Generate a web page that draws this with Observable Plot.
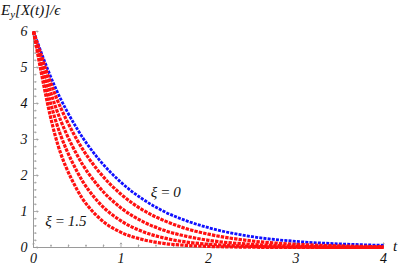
<!DOCTYPE html>
<html>
<head>
<meta charset="utf-8">
<script src="https://cdn.jsdelivr.net/npm/d3@7"></script>
<script src="https://cdn.jsdelivr.net/npm/@observablehq/plot@0.6"></script>
<style>
  html, body { margin: 0; padding: 0; background: white; }
  svg text { font-family: "Liberation Serif", "Times New Roman", serif !important; font-style: italic; }
</style>
</head>
<body>
<div id="chart"></div>
<script>
// time grid (t)
const tValues = [0, 0.25, 0.5, 0.75, 1, 1.25, 1.5, 1.75, 2, 2.5, 3, 3.5, 4];
// ξ = 0 (blue)
const xi0 = [6, 4.44, 3.29, 2.44, 1.81, 1.34, 0.99, 0.74, 0.55, 0.30, 0.17, 0.10, 0.06];
// red curves (increasing ξ up to 1.5)
const xiA = [6, 4.23, 2.98, 2.10, 1.48, 1.04, 0.74, 0.52, 0.37, 0.18, 0.09, 0.045, 0.022];
const xiB = [6, 3.92, 2.56, 1.68, 1.10, 0.72, 0.47, 0.31, 0.20, 0.086, 0.037, 0.016, 0.007];
const xiC = [6, 3.55, 2.10, 1.24, 0.74, 0.44, 0.26, 0.15, 0.09, 0.031, 0.011, 0.004, 0.001];
const xiD = [6, 3.09, 1.60, 0.82, 0.42, 0.22, 0.11, 0.058, 0.030, 0.008, 0.002, 0.001, 0];

const xTicks = [0, 1, 2, 3, 4];
const yTicks = [0, 1, 2, 3, 4, 5, 6];
const xMinor = [0.2,0.4,0.6,0.8,1.2,1.4,1.6,1.8,2.2,2.4,2.6,2.8,3.2,3.4,3.6,3.8];
const yMinor = [0.2,0.4,0.6,0.8,1.2,1.4,1.6,1.8,2.2,2.4,2.6,2.8,3.2,3.4,3.6,3.8,4.2,4.4,4.6,4.8,5.2,5.4,5.6,5.8];

const labelText = ["ξ\u2009=\u20090", "ξ\u2009=\u20091.5"];
const labelT = [1.34, 0.135];
const labelV = [1.53, 0.72];

const blueData = tValues.map((t, i) => ({t, v: xi0[i]}));
const redSeries = [xiA, xiB, xiC, xiD];
const redData = redSeries.flatMap((arr, k) => tValues.map((t, i) => ({t, v: arr[i], s: k})));
const labels = labelText.map((text, i) => ({text, t: labelT[i], v: labelV[i]}));

const axisColor = "#9a9a9a";
const font = "Liberation Serif";

const chart = Plot.plot({
  width: 399,
  height: 268,
  marginLeft: 33,
  marginRight: 16,
  marginTop: 31,
  marginBottom: 21,
  x: {domain: [0, 4]},
  y: {domain: [0, 6]},
  style: "font-family: 'Liberation Serif', serif; font-style: italic; font-size: 13px; background: white; color: #111;",
  marks: [
    Plot.ruleX([0], {stroke: axisColor, strokeWidth: 1}),
    Plot.ruleY([0], {stroke: axisColor, strokeWidth: 1}),
    Plot.vector(xMinor, {x: d => d, frameAnchor: "bottom", length: 2.5, rotate: 0, anchor: "start", stroke: axisColor, strokeWidth: 0.8}),
    Plot.vector(xTicks, {x: d => d, frameAnchor: "bottom", length: 4.5, rotate: 0, anchor: "start", stroke: axisColor, strokeWidth: 0.8}),
    Plot.vector(yMinor, {y: d => d, frameAnchor: "left", length: 2.5, rotate: 90, anchor: "start", stroke: axisColor, strokeWidth: 0.8}),
    Plot.vector(yTicks, {y: d => d, frameAnchor: "left", length: 4.5, rotate: 90, anchor: "start", stroke: axisColor, strokeWidth: 0.8}),
    Plot.axisX({ticks: xTicks, tickSize: 0, tickPadding: 6, tickFormat: d => String(d), label: null, fontSize: 14, fontFamily: font, fill: "#111"}),
    Plot.axisY({ticks: yTicks, tickSize: 0, tickPadding: 6, tickFormat: d => String(d), label: null, fontSize: 14, fontFamily: font, fill: "#111"}),
    Plot.line(blueData, {x: "t", y: "v", stroke: "#1010ff", strokeWidth: 2.8, strokeDasharray: "3,1.2", strokeLinecap: "butt", curve: "monotone-x"}),
    Plot.line(redData, {x: "t", y: "v", z: "s", stroke: "#ff1010", strokeWidth: 3.2, strokeDasharray: "3.4,1.1", strokeLinecap: "butt", curve: "monotone-x"}),
    Plot.text(labels, {x: "t", y: "v", text: "text", textAnchor: "start", fontSize: 15, fontFamily: font, fill: "#111"})
  ]
});

document.getElementById("chart").appendChild(chart);

// axis titles (with subscript)
const svg = d3.select(chart);
const title = svg.append("text")
  .attr("x", 1).attr("y", 15)
  .attr("text-anchor", "start")
  .attr("font-family", font).attr("font-style", "italic").attr("font-size", 15).attr("fill", "#111");
title.append("tspan").text("E");
title.append("tspan").attr("dy", 3).attr("font-size", 11).text("y");
title.append("tspan").attr("dy", -3).text("[X(t)]/ϵ");
svg.append("text")
  .attr("x", 393).attr("y", 251)
  .attr("text-anchor", "start")
  .attr("font-family", font).attr("font-style", "italic").attr("font-size", 15).attr("fill", "#111")
  .text("t");
</script>
</body>
</html>
